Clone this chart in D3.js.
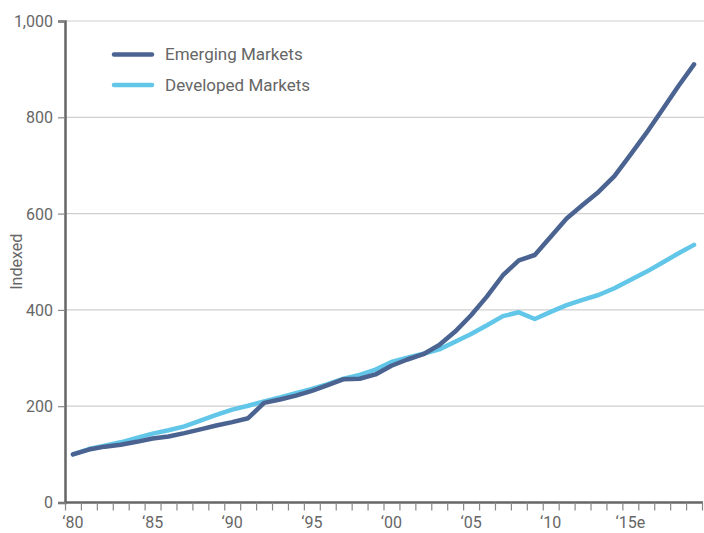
<!DOCTYPE html>
<html>
<head>
<meta charset="utf-8">
<script src="https://cdn.jsdelivr.net/npm/d3@7"></script>
<style>
  html, body { margin: 0; padding: 0; background: #fff; }
  svg { display: block; }
  text { font-family: "Roboto", "Liberation Sans", sans-serif; fill: #666; }
</style>
</head>
<body>
<svg id="chart" width="704" height="533"></svg>
<script>
// Annual index values, 1980 = 100
const years = d3.range(1980, 2020);
const emerging = [100, 110, 116, 120, 126, 133, 137, 144, 152, 160,
                  167, 175, 207, 214, 222, 232, 244, 256, 257, 266,
                  284, 297, 308, 327, 355, 389, 428, 472, 503, 514,
                  552, 590, 618, 645, 678, 722, 767, 815, 864, 910];
const developed = [100, 111, 118, 125, 134, 143, 150, 158, 170, 182,
                   193, 201, 210, 218, 227, 236, 246, 257, 265, 276,
                   292, 301, 309, 318, 334, 350, 368, 387, 395, 381,
                   396, 410, 421, 431, 445, 462, 479, 498, 517, 535];
const yTicks = [0, 200, 400, 600, 800, 1000];
const xLabelYears = [1980, 1985, 1990, 1995, 2000, 2005, 2010, 2015];
const xLabels = ["\u201880", "\u201885", "\u201890", "\u201895", "\u201800", "\u201805", "\u201810", "\u201815e"];
const seriesNames = ["Emerging Markets", "Developed Markets"];
const seriesColors = ["#4a6391", "#62c6e8"];

const svg = d3.select("#chart");
const plotLeft = 65, plotRight = 702, plotTop = 21, plotBottom = 502.5;

const x = d3.scaleLinear().domain([1980, 2020]).range([plotLeft, plotRight]);
const y = d3.scaleLinear().domain([0, 1000]).range([plotBottom, plotTop]);

// horizontal gridlines
svg.append("g")
  .selectAll("line")
  .data(yTicks.filter(v => v > 0))
  .join("line")
  .attr("x1", plotLeft).attr("x2", 704)
  .attr("y1", d => y(d)).attr("y2", d => y(d))
  .attr("stroke", "#cfcfcf").attr("stroke-width", 1.2);

// y axis
const yAxis = svg.append("g")
  .attr("transform", `translate(${plotLeft},0)`)
  .call(d3.axisLeft(y).tickValues(yTicks).tickSize(7).tickPadding(5)
    .tickFormat(d3.format(",")));
yAxis.select(".domain").attr("stroke", "#666").attr("stroke-width", 2.5);
yAxis.selectAll(".tick line").attr("stroke", "#888").attr("stroke-width", 1.2);
yAxis.selectAll(".tick text").style("font-size", "16px").attr("fill", "#666")
  .attr("dy", "0.34em");

// x axis: a tick at each year boundary, labels centred within the year
const xAxis = svg.append("g")
  .attr("transform", `translate(0,${plotBottom})`)
  .call(d3.axisBottom(x).tickValues(d3.range(1980, 2021)).tickSize(8).tickFormat(""));
xAxis.select(".domain").attr("stroke", "#666").attr("stroke-width", 2.5)
  .attr("d", `M${plotLeft},0H${plotRight + 1}`);
xAxis.selectAll(".tick line").attr("stroke", "#888").attr("stroke-width", 1.2);

svg.append("g")
  .selectAll("text")
  .data(xLabelYears)
  .join("text")
  .attr("x", d => x(d + 0.5))
  .attr("y", 528)
  .attr("text-anchor", "middle")
  .style("font-size", "16px")
  .text((d, i) => xLabels[i]);

// y axis title
svg.append("text")
  .attr("transform", `translate(22,${(plotTop + plotBottom) / 2}) rotate(-90)`)
  .attr("text-anchor", "middle")
  .style("font-size", "16px")
  .text("Indexed");

// series lines
const line = d3.line()
  .x((d, i) => x(years[i] + 0.5))
  .y(d => y(d));

[developed, emerging].forEach((vals, k) => {
  const ci = k === 0 ? 1 : 0;
  svg.append("path")
    .datum(vals)
    .attr("d", line)
    .attr("fill", "none")
    .attr("stroke", seriesColors[ci])
    .attr("stroke-width", 4.5)
    .attr("stroke-linejoin", "round")
    .attr("stroke-linecap", "round");
});

// legend
const legend = svg.append("g");
seriesNames.forEach((name, i) => {
  const ly = 54.5 + i * 30.5;
  legend.append("line")
    .attr("x1", 114).attr("x2", 152)
    .attr("y1", ly).attr("y2", ly)
    .attr("stroke", seriesColors[i]).attr("stroke-width", 4.5)
    .attr("stroke-linecap", "round");
  legend.append("text")
    .attr("x", 165).attr("y", ly)
    .attr("dy", "0.35em")
    .style("font-size", "17px")
    .text(name);
});
</script>
</body>
</html>
